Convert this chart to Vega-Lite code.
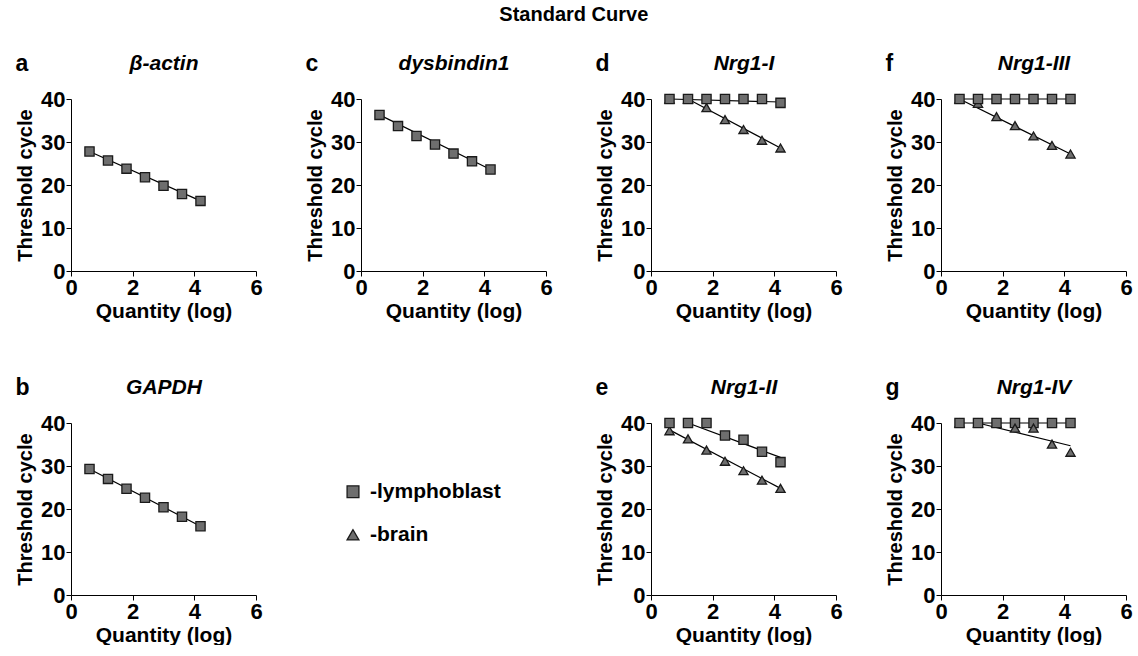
{
  "$schema": "https://vega.github.io/schema/vega-lite/v6.json",
  "padding": {"left": 15, "top": 5, "right": 1, "bottom": 0},
  "title": {"text": "Standard Curve", "fontSize": 20, "anchor": "middle", "offset": 11, "frame": "bounds", "baseline": "alphabetic"},
  "datasets": {
    "pts": [
      {"panel": "a", "series": "lymphoblast", "x": 0.6, "y": 27.8},
      {"panel": "a", "series": "lymphoblast", "x": 1.2, "y": 25.7},
      {"panel": "a", "series": "lymphoblast", "x": 1.8, "y": 23.8},
      {"panel": "a", "series": "lymphoblast", "x": 2.4, "y": 21.8},
      {"panel": "a", "series": "lymphoblast", "x": 3.0, "y": 19.8},
      {"panel": "a", "series": "lymphoblast", "x": 3.6, "y": 17.9},
      {"panel": "a", "series": "lymphoblast", "x": 4.2, "y": 16.3},
      {"panel": "b", "series": "lymphoblast", "x": 0.6, "y": 29.3},
      {"panel": "b", "series": "lymphoblast", "x": 1.2, "y": 27.0},
      {"panel": "b", "series": "lymphoblast", "x": 1.8, "y": 24.7},
      {"panel": "b", "series": "lymphoblast", "x": 2.4, "y": 22.6},
      {"panel": "b", "series": "lymphoblast", "x": 3.0, "y": 20.4},
      {"panel": "b", "series": "lymphoblast", "x": 3.6, "y": 18.2},
      {"panel": "b", "series": "lymphoblast", "x": 4.2, "y": 16.0},
      {"panel": "c", "series": "lymphoblast", "x": 0.6, "y": 36.3},
      {"panel": "c", "series": "lymphoblast", "x": 1.2, "y": 33.7},
      {"panel": "c", "series": "lymphoblast", "x": 1.8, "y": 31.4},
      {"panel": "c", "series": "lymphoblast", "x": 2.4, "y": 29.4},
      {"panel": "c", "series": "lymphoblast", "x": 3.0, "y": 27.3},
      {"panel": "c", "series": "lymphoblast", "x": 3.6, "y": 25.5},
      {"panel": "c", "series": "lymphoblast", "x": 4.2, "y": 23.6},
      {"panel": "d", "series": "brain", "x": 0.6, "y": 40},
      {"panel": "d", "series": "brain", "x": 1.2, "y": 40},
      {"panel": "d", "series": "brain", "x": 1.8, "y": 38.0},
      {"panel": "d", "series": "brain", "x": 2.4, "y": 35.2},
      {"panel": "d", "series": "brain", "x": 3.0, "y": 32.9},
      {"panel": "d", "series": "brain", "x": 3.6, "y": 30.4},
      {"panel": "d", "series": "brain", "x": 4.2, "y": 28.6},
      {"panel": "d", "series": "lymphoblast", "x": 0.6, "y": 40},
      {"panel": "d", "series": "lymphoblast", "x": 1.2, "y": 40},
      {"panel": "d", "series": "lymphoblast", "x": 1.8, "y": 40},
      {"panel": "d", "series": "lymphoblast", "x": 2.4, "y": 40},
      {"panel": "d", "series": "lymphoblast", "x": 3.0, "y": 40},
      {"panel": "d", "series": "lymphoblast", "x": 3.6, "y": 40},
      {"panel": "d", "series": "lymphoblast", "x": 4.2, "y": 39.1},
      {"panel": "f", "series": "brain", "x": 0.6, "y": 40},
      {"panel": "f", "series": "brain", "x": 1.2, "y": 39.0},
      {"panel": "f", "series": "brain", "x": 1.8, "y": 35.9},
      {"panel": "f", "series": "brain", "x": 2.4, "y": 33.8},
      {"panel": "f", "series": "brain", "x": 3.0, "y": 31.4},
      {"panel": "f", "series": "brain", "x": 3.6, "y": 29.2},
      {"panel": "f", "series": "brain", "x": 4.2, "y": 27.2},
      {"panel": "f", "series": "lymphoblast", "x": 0.6, "y": 40},
      {"panel": "f", "series": "lymphoblast", "x": 1.2, "y": 40},
      {"panel": "f", "series": "lymphoblast", "x": 1.8, "y": 40},
      {"panel": "f", "series": "lymphoblast", "x": 2.4, "y": 40},
      {"panel": "f", "series": "lymphoblast", "x": 3.0, "y": 40},
      {"panel": "f", "series": "lymphoblast", "x": 3.6, "y": 40},
      {"panel": "f", "series": "lymphoblast", "x": 4.2, "y": 40},
      {"panel": "e", "series": "brain", "x": 0.6, "y": 38.2},
      {"panel": "e", "series": "brain", "x": 1.2, "y": 36.3},
      {"panel": "e", "series": "brain", "x": 1.8, "y": 33.7},
      {"panel": "e", "series": "brain", "x": 2.4, "y": 31.1},
      {"panel": "e", "series": "brain", "x": 3.0, "y": 28.9},
      {"panel": "e", "series": "brain", "x": 3.6, "y": 26.7},
      {"panel": "e", "series": "brain", "x": 4.2, "y": 24.8},
      {"panel": "e", "series": "lymphoblast", "x": 0.6, "y": 40},
      {"panel": "e", "series": "lymphoblast", "x": 1.2, "y": 40},
      {"panel": "e", "series": "lymphoblast", "x": 1.8, "y": 40},
      {"panel": "e", "series": "lymphoblast", "x": 2.4, "y": 37.1},
      {"panel": "e", "series": "lymphoblast", "x": 3.0, "y": 36.1},
      {"panel": "e", "series": "lymphoblast", "x": 3.6, "y": 33.3},
      {"panel": "e", "series": "lymphoblast", "x": 4.2, "y": 30.9},
      {"panel": "g", "series": "brain", "x": 0.6, "y": 40},
      {"panel": "g", "series": "brain", "x": 1.2, "y": 40},
      {"panel": "g", "series": "brain", "x": 1.8, "y": 40},
      {"panel": "g", "series": "lymphoblast", "x": 0.6, "y": 40},
      {"panel": "g", "series": "lymphoblast", "x": 1.2, "y": 40},
      {"panel": "g", "series": "lymphoblast", "x": 1.8, "y": 40},
      {"panel": "g", "series": "lymphoblast", "x": 2.4, "y": 40},
      {"panel": "g", "series": "lymphoblast", "x": 3.0, "y": 40},
      {"panel": "g", "series": "lymphoblast", "x": 3.6, "y": 40},
      {"panel": "g", "series": "lymphoblast", "x": 4.2, "y": 40},
      {"panel": "g", "series": "brain", "x": 2.4, "y": 38.8},
      {"panel": "g", "series": "brain", "x": 3.0, "y": 38.8},
      {"panel": "g", "series": "brain", "x": 3.6, "y": 35.1},
      {"panel": "g", "series": "brain", "x": 4.2, "y": 33.2}
    ],
    "fits": [
      {"panel": "a", "series": "lymphoblast", "x": 0.6, "y": 27.8},
      {"panel": "a", "series": "lymphoblast", "x": 4.2, "y": 16.3},
      {"panel": "b", "series": "lymphoblast", "x": 0.6, "y": 29.3},
      {"panel": "b", "series": "lymphoblast", "x": 4.2, "y": 16.0},
      {"panel": "c", "series": "lymphoblast", "x": 0.6, "y": 36.3},
      {"panel": "c", "series": "lymphoblast", "x": 4.2, "y": 23.6},
      {"panel": "d", "series": "lymphoblast", "x": 0.6, "y": 40},
      {"panel": "d", "series": "lymphoblast", "x": 4.2, "y": 39.3},
      {"panel": "d", "series": "brain", "x": 1.2, "y": 40},
      {"panel": "d", "series": "brain", "x": 4.2, "y": 28.6},
      {"panel": "f", "series": "lymphoblast", "x": 0.6, "y": 40},
      {"panel": "f", "series": "lymphoblast", "x": 4.2, "y": 40},
      {"panel": "f", "series": "brain", "x": 0.6, "y": 40},
      {"panel": "f", "series": "brain", "x": 4.2, "y": 27.2},
      {"panel": "e", "series": "lymphoblast", "x": 1.2, "y": 40},
      {"panel": "e", "series": "lymphoblast", "x": 4.2, "y": 32.0},
      {"panel": "e", "series": "brain", "x": 0.6, "y": 38.4},
      {"panel": "e", "series": "brain", "x": 4.2, "y": 24.8},
      {"panel": "g", "series": "lymphoblast", "x": 0.6, "y": 40},
      {"panel": "g", "series": "lymphoblast", "x": 4.2, "y": 40},
      {"panel": "g", "series": "brain", "x": 1.2, "y": 40},
      {"panel": "g", "series": "brain", "x": 4.2, "y": 34.7}
    ],
    "legend": [
      {"series": "lymphoblast", "label": "-lymphoblast"},
      {"series": "brain", "label": "-brain"}
    ]
  },
  "columns": 4,
  "spacing": {"row": 55, "column": 42},
  "concat": [
    {
      "title": {"text": "a"}, "width": 185, "height": 172,
      "layer": [
        {"data": {"name": "fits"}, "transform": [{"filter": "datum.panel === 'a'"}],
         "mark": {"type": "line", "color": "black", "strokeWidth": 1.2},
         "encoding": {
           "x": {"field": "x", "type": "quantitative", "title": "Quantity (log)", "scale": {"domain": [0, 6]}, "axis": {"values": [0, 2, 4, 6]}},
           "y": {"field": "y", "type": "quantitative", "title": "Threshold cycle", "scale": {"domain": [0, 40]}, "axis": {"values": [0, 10, 20, 30, 40]}},
           "detail": {"field": "series"}}},
        {"data": {"name": "pts"}, "transform": [{"filter": "datum.panel === 'a'"}],
         "mark": {"type": "point", "filled": true, "fill": "#6e6e6e", "stroke": "#1a1a1a", "strokeWidth": 1.3, "opacity": 1, "size": 85},
         "encoding": {
           "x": {"field": "x", "type": "quantitative", "title": "β-actin", "axis": {"orient": "top", "labels": false, "ticks": false, "domain": false, "titleFontStyle": "italic", "titlePadding": 26}},
           "y": {"field": "y", "type": "quantitative", "title": "Threshold cycle"},
           "shape": {"field": "series", "type": "nominal", "scale": {"domain": ["lymphoblast", "brain"], "range": ["square", "triangle-up"]}, "legend": null}}}
      ],
      "resolve": {"axis": {"x": "independent"}}
    },
    {
      "title": {"text": "c"}, "width": 185, "height": 172,
      "layer": [
        {"data": {"name": "fits"}, "transform": [{"filter": "datum.panel === 'c'"}],
         "mark": {"type": "line", "color": "black", "strokeWidth": 1.2},
         "encoding": {
           "x": {"field": "x", "type": "quantitative", "title": "Quantity (log)", "scale": {"domain": [0, 6]}, "axis": {"values": [0, 2, 4, 6]}},
           "y": {"field": "y", "type": "quantitative", "title": "Threshold cycle", "scale": {"domain": [0, 40]}, "axis": {"values": [0, 10, 20, 30, 40]}},
           "detail": {"field": "series"}}},
        {"data": {"name": "pts"}, "transform": [{"filter": "datum.panel === 'c'"}],
         "mark": {"type": "point", "filled": true, "fill": "#6e6e6e", "stroke": "#1a1a1a", "strokeWidth": 1.3, "opacity": 1, "size": 85},
         "encoding": {
           "x": {"field": "x", "type": "quantitative", "title": "dysbindin1", "axis": {"orient": "top", "labels": false, "ticks": false, "domain": false, "titleFontStyle": "italic", "titlePadding": 26}},
           "y": {"field": "y", "type": "quantitative", "title": "Threshold cycle"},
           "shape": {"field": "series", "type": "nominal", "scale": {"domain": ["lymphoblast", "brain"], "range": ["square", "triangle-up"]}, "legend": null}}}
      ],
      "resolve": {"axis": {"x": "independent"}}
    },
    {
      "title": {"text": "d"}, "width": 185, "height": 172,
      "layer": [
        {"data": {"name": "fits"}, "transform": [{"filter": "datum.panel === 'd'"}],
         "mark": {"type": "line", "color": "black", "strokeWidth": 1.2},
         "encoding": {
           "x": {"field": "x", "type": "quantitative", "title": "Quantity (log)", "scale": {"domain": [0, 6]}, "axis": {"values": [0, 2, 4, 6]}},
           "y": {"field": "y", "type": "quantitative", "title": "Threshold cycle", "scale": {"domain": [0, 40]}, "axis": {"values": [0, 10, 20, 30, 40]}},
           "detail": {"field": "series"}}},
        {"data": {"name": "pts"}, "transform": [{"filter": "datum.panel === 'd'"}],
         "mark": {"type": "point", "filled": true, "fill": "#6e6e6e", "stroke": "#1a1a1a", "strokeWidth": 1.3, "opacity": 1, "size": 85},
         "encoding": {
           "x": {"field": "x", "type": "quantitative", "title": "Nrg1-I", "axis": {"orient": "top", "labels": false, "ticks": false, "domain": false, "titleFontStyle": "italic", "titlePadding": 26}},
           "y": {"field": "y", "type": "quantitative", "title": "Threshold cycle"},
           "shape": {"field": "series", "type": "nominal", "scale": {"domain": ["lymphoblast", "brain"], "range": ["square", "triangle-up"]}, "legend": null}}}
      ],
      "resolve": {"axis": {"x": "independent"}}
    },
    {
      "title": {"text": "f"}, "width": 185, "height": 172,
      "layer": [
        {"data": {"name": "fits"}, "transform": [{"filter": "datum.panel === 'f'"}],
         "mark": {"type": "line", "color": "black", "strokeWidth": 1.2},
         "encoding": {
           "x": {"field": "x", "type": "quantitative", "title": "Quantity (log)", "scale": {"domain": [0, 6]}, "axis": {"values": [0, 2, 4, 6]}},
           "y": {"field": "y", "type": "quantitative", "title": "Threshold cycle", "scale": {"domain": [0, 40]}, "axis": {"values": [0, 10, 20, 30, 40]}},
           "detail": {"field": "series"}}},
        {"data": {"name": "pts"}, "transform": [{"filter": "datum.panel === 'f'"}],
         "mark": {"type": "point", "filled": true, "fill": "#6e6e6e", "stroke": "#1a1a1a", "strokeWidth": 1.3, "opacity": 1, "size": 85},
         "encoding": {
           "x": {"field": "x", "type": "quantitative", "title": "Nrg1-III", "axis": {"orient": "top", "labels": false, "ticks": false, "domain": false, "titleFontStyle": "italic", "titlePadding": 26}},
           "y": {"field": "y", "type": "quantitative", "title": "Threshold cycle"},
           "shape": {"field": "series", "type": "nominal", "scale": {"domain": ["lymphoblast", "brain"], "range": ["square", "triangle-up"]}, "legend": null}}}
      ],
      "resolve": {"axis": {"x": "independent"}}
    },
    {
      "title": {"text": "b"}, "width": 185, "height": 172,
      "layer": [
        {"data": {"name": "fits"}, "transform": [{"filter": "datum.panel === 'b'"}],
         "mark": {"type": "line", "color": "black", "strokeWidth": 1.2},
         "encoding": {
           "x": {"field": "x", "type": "quantitative", "title": "Quantity (log)", "scale": {"domain": [0, 6]}, "axis": {"values": [0, 2, 4, 6]}},
           "y": {"field": "y", "type": "quantitative", "title": "Threshold cycle", "scale": {"domain": [0, 40]}, "axis": {"values": [0, 10, 20, 30, 40]}},
           "detail": {"field": "series"}}},
        {"data": {"name": "pts"}, "transform": [{"filter": "datum.panel === 'b'"}],
         "mark": {"type": "point", "filled": true, "fill": "#6e6e6e", "stroke": "#1a1a1a", "strokeWidth": 1.3, "opacity": 1, "size": 85},
         "encoding": {
           "x": {"field": "x", "type": "quantitative", "title": "GAPDH", "axis": {"orient": "top", "labels": false, "ticks": false, "domain": false, "titleFontStyle": "italic", "titlePadding": 26}},
           "y": {"field": "y", "type": "quantitative", "title": "Threshold cycle"},
           "shape": {"field": "series", "type": "nominal", "scale": {"domain": ["lymphoblast", "brain"], "range": ["square", "triangle-up"]}, "legend": null}}}
      ],
      "resolve": {"axis": {"x": "independent"}}
    },
    {
      "width": 4, "height": 172,
      "data": {"name": "legend"},
      "layer": [
        {"mark": {"type": "point", "filled": true, "fill": "#6e6e6e", "stroke": "#1a1a1a", "strokeWidth": 1.3, "opacity": 1, "size": 140, "xOffset": -10},
         "encoding": {
           "y": {"field": "series", "type": "nominal", "scale": {"type": "band", "domain": ["lymphoblast", "brain"], "paddingInner": 0, "paddingOuter": 1.26, "align": 0.55}, "axis": null},
           "shape": {"field": "series", "type": "nominal", "scale": {"domain": ["lymphoblast", "brain"], "range": ["square", "triangle-up"]}, "legend": null}}},
        {"mark": {"type": "text", "align": "left", "baseline": "middle", "dx": 7, "fontSize": 21, "fontWeight": "bold", "font": "Liberation Sans", "color": "black"},
         "encoding": {
           "y": {"field": "series", "type": "nominal", "scale": {"type": "band", "domain": ["lymphoblast", "brain"], "paddingInner": 0, "paddingOuter": 1.26, "align": 0.55}, "axis": null},
           "text": {"field": "label"}}}
      ]
    },
    {
      "title": {"text": "e"}, "width": 185, "height": 172,
      "layer": [
        {"data": {"name": "fits"}, "transform": [{"filter": "datum.panel === 'e'"}],
         "mark": {"type": "line", "color": "black", "strokeWidth": 1.2},
         "encoding": {
           "x": {"field": "x", "type": "quantitative", "title": "Quantity (log)", "scale": {"domain": [0, 6]}, "axis": {"values": [0, 2, 4, 6]}},
           "y": {"field": "y", "type": "quantitative", "title": "Threshold cycle", "scale": {"domain": [0, 40]}, "axis": {"values": [0, 10, 20, 30, 40]}},
           "detail": {"field": "series"}}},
        {"data": {"name": "pts"}, "transform": [{"filter": "datum.panel === 'e'"}],
         "mark": {"type": "point", "filled": true, "fill": "#6e6e6e", "stroke": "#1a1a1a", "strokeWidth": 1.3, "opacity": 1, "size": 85},
         "encoding": {
           "x": {"field": "x", "type": "quantitative", "title": "Nrg1-II", "axis": {"orient": "top", "labels": false, "ticks": false, "domain": false, "titleFontStyle": "italic", "titlePadding": 26}},
           "y": {"field": "y", "type": "quantitative", "title": "Threshold cycle"},
           "shape": {"field": "series", "type": "nominal", "scale": {"domain": ["lymphoblast", "brain"], "range": ["square", "triangle-up"]}, "legend": null}}}
      ],
      "resolve": {"axis": {"x": "independent"}}
    },
    {
      "title": {"text": "g"}, "width": 185, "height": 172,
      "layer": [
        {"data": {"name": "fits"}, "transform": [{"filter": "datum.panel === 'g'"}],
         "mark": {"type": "line", "color": "black", "strokeWidth": 1.2},
         "encoding": {
           "x": {"field": "x", "type": "quantitative", "title": "Quantity (log)", "scale": {"domain": [0, 6]}, "axis": {"values": [0, 2, 4, 6]}},
           "y": {"field": "y", "type": "quantitative", "title": "Threshold cycle", "scale": {"domain": [0, 40]}, "axis": {"values": [0, 10, 20, 30, 40]}},
           "detail": {"field": "series"}}},
        {"data": {"name": "pts"}, "transform": [{"filter": "datum.panel === 'g'"}],
         "mark": {"type": "point", "filled": true, "fill": "#6e6e6e", "stroke": "#1a1a1a", "strokeWidth": 1.3, "opacity": 1, "size": 85},
         "encoding": {
           "x": {"field": "x", "type": "quantitative", "title": "Nrg1-IV", "axis": {"orient": "top", "labels": false, "ticks": false, "domain": false, "titleFontStyle": "italic", "titlePadding": 26}},
           "y": {"field": "y", "type": "quantitative", "title": "Threshold cycle"},
           "shape": {"field": "series", "type": "nominal", "scale": {"domain": ["lymphoblast", "brain"], "range": ["square", "triangle-up"]}, "legend": null}}}
      ],
      "resolve": {"axis": {"x": "independent"}}
    }
  ],
  "config": {
    "font": "Liberation Sans",
    "view": {"stroke": null},
    "axis": {"labelFont": "Liberation Sans", "labelFontSize": 22, "labelFontWeight": "bold", "labelColor": "black", "titleFont": "Liberation Sans", "titleFontSize": 21, "titleFontWeight": "bold", "titleColor": "black", "domainColor": "black", "tickColor": "black", "tickSize": 5, "grid": false, "labelPadding": 1, "titlePadding": 2, "labelFlush": false},
    "axisY": {"titlePadding": 5, "labelPadding": 1, "titleFontSize": 20},
    "title": {"font": "Liberation Sans", "fontSize": 23, "fontWeight": "bold", "color": "black", "anchor": "start", "frame": "bounds", "offset": -24, "baseline": "alphabetic"}
  }
}
